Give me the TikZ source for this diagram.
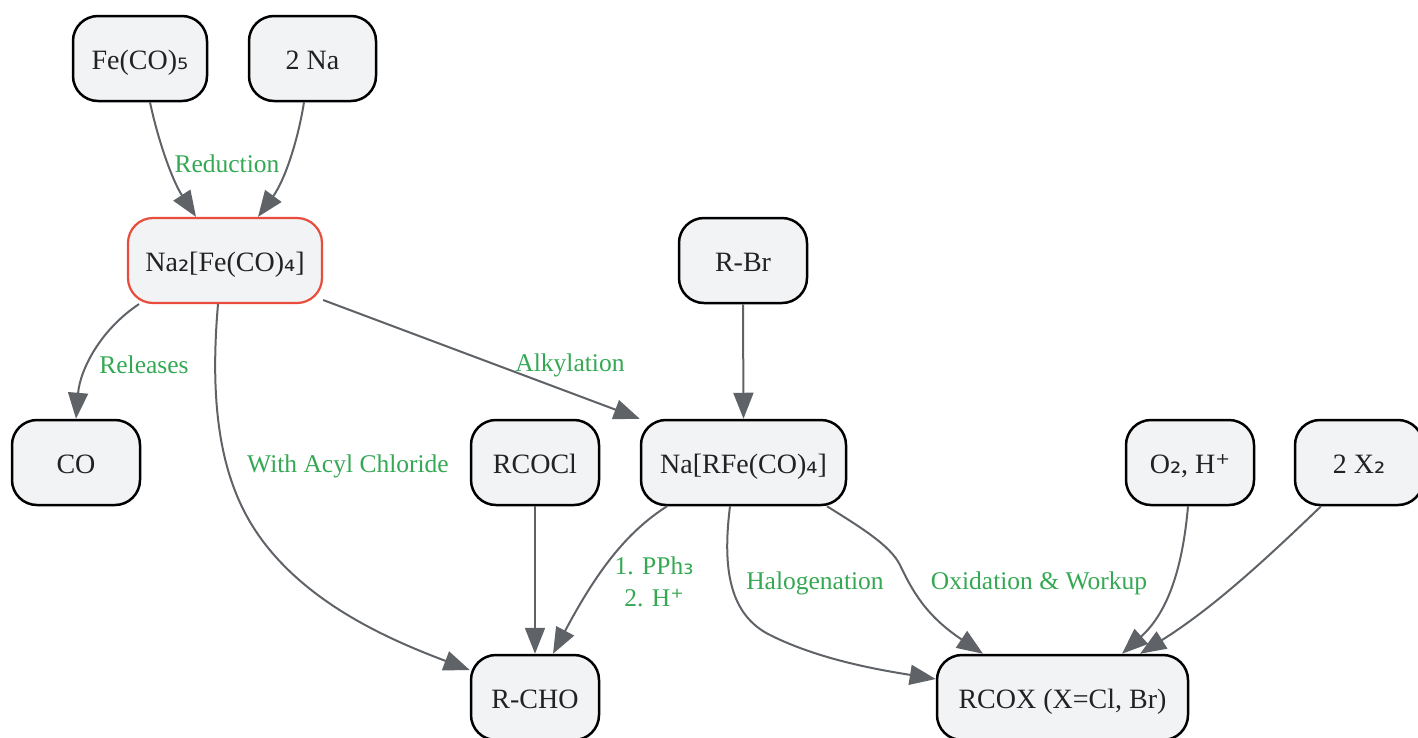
\documentclass[tikz,border=0pt]{standalone}
\usepackage{fontspec}
\setmainfont{Liberation Serif}
\newfontfamily\symf{DejaVu Sans}
\usetikzlibrary{arrows.meta}
\definecolor{nodefill}{HTML}{F1F3F5}
\definecolor{edgegray}{HTML}{5F6368}
\definecolor{lblgreen}{HTML}{34A853}
\definecolor{hlred}{HTML}{E74C3C}
\definecolor{txtcol}{HTML}{222222}
\newcommand{\chs}[1]{{\symf #1}}
\tikzset{
  box/.style={draw=black, line width=2.5pt, fill=nodefill, rounded corners=25pt,
    minimum height=85pt, inner sep=0pt, text height=22pt, text depth=0pt,
    text=txtcol, font=\fontsize{28}{34}\selectfont},
  hlbox/.style={box, draw=hlred, line width=2.2pt},
  edge/.style={draw=edgegray, line width=2pt, -{Triangle[length=26pt,width=20pt]}},
  lbl/.style={text=lblgreen, font=\fontsize{25.5}{32}\selectfont, inner sep=0pt, align=center}
}
\begin{document}
\begin{tikzpicture}[x=1pt,y=-1pt]
\useasboundingbox (0,0) rectangle (1418,737);
% nodes
\node[box, minimum width=134pt] (fe) at (140,58.5) {Fe(CO)\chs{₅}};
\node[box, minimum width=127pt] (na) at (312.5,58.5) {2 Na};
\node[hlbox, minimum width=194pt] (na2) at (225,260.5) {Na\chs{₂}[Fe(CO)\chs{₄}]};
\node[box, minimum width=128pt] (rbr) at (743,260.5) {R-Br};
\node[box, minimum width=128pt] (co) at (76,462.5) {CO};
\node[box, minimum width=128pt] (rcocl) at (535,462.5) {RCOCl};
\node[box, minimum width=205pt] (nrfe) at (743.5,462.5) {Na[RFe(CO)\chs{₄}]};
\node[box, minimum width=128pt] (o2) at (1190,462.5) {O\chs{₂}, H\chs{⁺}};
\node[box, minimum width=128pt] (x2) at (1359,462.5) {2 X\chs{₂}};
\node[box, minimum width=128pt] (rcho) at (535,697.5) {R-CHO};
\node[box, minimum width=251pt] (rcox) at (1062.5,697.5) {RCOX (X=Cl, Br)};
% edges
\draw[edge] ([xshift=10pt]fe.south) .. controls (158,140) and (172,180) .. ([xshift=-29pt]na2.north);
\draw[edge] ([xshift=-8.5pt]na.south) .. controls (298,140) and (285,180) .. ([xshift=33pt]na2.north);
\draw[edge] ([xshift=-86pt]na2.south) .. controls (100,330) and (80,370) .. (co.north);
\draw[edge] ([xshift=-7pt]na2.south) .. controls (208,420) and (225,490) .. (262,540)
  .. controls (310,605) and (390,640) .. ([yshift=27.5pt]rcho.west);
\draw[edge] ([yshift=-39.5pt]na2.east) -- (nrfe.north west);
\draw[edge] (rbr.south) -- (nrfe.north);
\draw[edge] (rcocl.south) -- (rcho.north);
\draw[edge] ([xshift=-76.5pt]nrfe.south) .. controls (630,530) and (600,565) .. ([xshift=18pt]rcho.north);
\draw[edge] ([xshift=-13.5pt]nrfe.south) .. controls (722,570) and (730,615) .. (770,635)
  .. controls (820,660) and (880,670) .. ([yshift=18.5pt]rcox.west);
\draw[edge] ([xshift=83.5pt]nrfe.south) .. controls (860,527) and (890,545) .. (900,565)
  .. controls (912,590) and (925,615) .. ([xshift=-79.5pt]rcox.north);
\draw[edge] ([xshift=-2pt]o2.south) .. controls (1182,575) and (1165,615) .. ([xshift=59.5pt]rcox.north);
\draw[edge] ([xshift=-38pt]x2.south) .. controls (1260,565) and (1210,610) .. ([xshift=77.5pt]rcox.north);
% labels
\node[lbl] (lred) at (227,164) {Reduction};
\node[lbl] (lrel) at (144,365) {Releases};
\node[lbl] (lacyl) at (348,466) {With Acyl Chloride};
\node[lbl] (lalk) at (570,365) {Alkylation};
\node[lbl] (lpph) at (654,582) {1. PPh\chs{₃}\\2. H\chs{⁺}};
\node[lbl] (lhal) at (815,583) {Halogenation};
\node[lbl] (lox) at (1039,583) {Oxidation \& Workup};
\end{tikzpicture}
\end{document}
